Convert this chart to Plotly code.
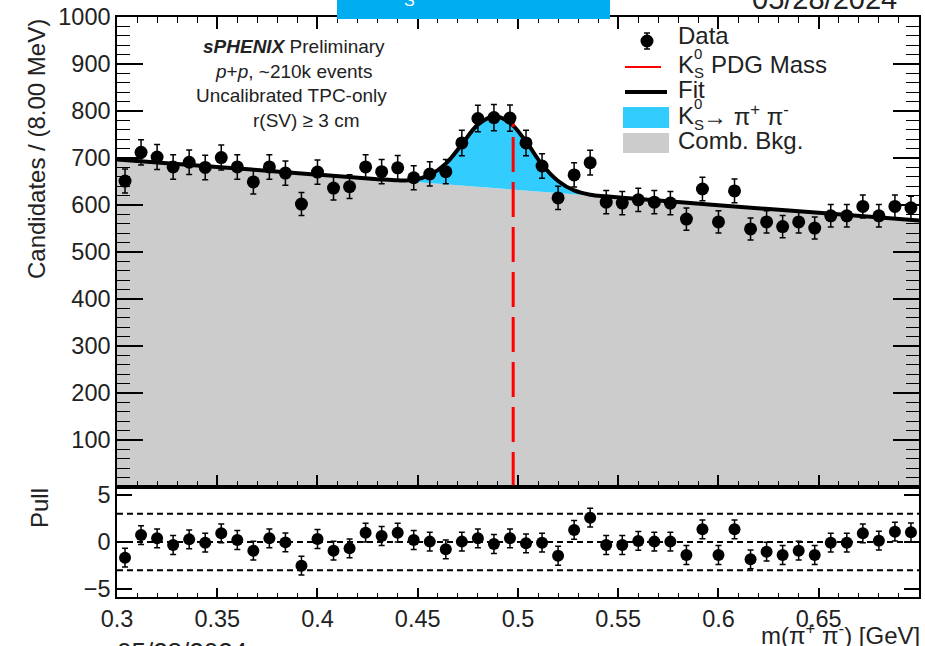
import numpy as np
import plotly.graph_objects as go

W, H = 925, 646

# ---------------- data ----------------
mass = [0.304, 0.312, 0.320, 0.328, 0.336, 0.344, 0.352, 0.360, 0.368, 0.376,
        0.384, 0.392, 0.400, 0.408, 0.416, 0.424, 0.432, 0.440, 0.448, 0.456,
        0.464, 0.472, 0.480, 0.488, 0.496, 0.504, 0.512, 0.520, 0.528, 0.536,
        0.544, 0.552, 0.560, 0.568, 0.576, 0.584, 0.592, 0.600, 0.608, 0.616,
        0.624, 0.632, 0.640, 0.648, 0.656, 0.664, 0.672, 0.680, 0.688, 0.696]

counts = [651, 712, 702, 681, 691, 680, 701, 681, 649, 681,
          668, 602, 670, 636, 639, 681, 671, 679, 658, 666,
          671, 732, 784, 786, 785, 732, 683, 615, 664, 690,
          606, 604, 611, 606, 604, 570, 634, 564, 630, 549,
          564, 554, 564, 551, 577, 577, 597, 577, 597, 594]

pulls = [-1.67, 0.74, 0.39, -0.32, 0.28, -0.07, 0.92, 0.21, -0.92, 0.39,
         -0.04, -2.52, 0.32, -0.92, -0.67, 0.99, 0.64, 0.99, 0.21, 0.04,
         -0.78, 0.04, 0.39, -0.21, 0.39, -0.14, -0.07, -1.46, 1.28, 2.59,
         -0.32, -0.32, 0.11, 0.04, 0.04, -1.38, 1.35, -1.38, 1.35, -1.84,
         -1.03, -1.38, -0.92, -1.38, -0.07, -0.07, 0.92, 0.14, 1.10, 1.03]

fit_mass = [0.300, 0.350, 0.400, 0.430, 0.440, 0.448, 0.456, 0.464, 0.472, 0.480,
            0.488, 0.496, 0.504, 0.512, 0.520, 0.528, 0.536, 0.544, 0.552, 0.600,
            0.650, 0.700]
fit_total = [697.0, 681.0, 664.5, 655.0, 652.5, 653.5, 664.0, 688.0, 729.0, 771.0,
             789.0, 775.0, 735.0, 686.0, 651.0, 631.0, 622.0, 618.5, 615.5, 599.5,
             583.3, 567.0]
fit_bkg = [697.0, 680.8, 664.5, 654.8, 651.5, 648.9, 646.3, 643.7, 641.1, 638.5,
           635.9, 633.3, 630.7, 628.1, 625.5, 622.9, 620.3, 617.7, 615.1, 599.5,
           583.3, 567.0]

pdg_mass = 0.4976
pdg_line_y = [0, 790]
pull_ref_levels = [3, 0, -3]
x_range = [0.3, 0.70001]

main_yticks = [100, 200, 300, 400, 500, 600, 700, 800, 900, 1000]
pull_yticks = [-5, 0, 5]
pull_yticklabels = ["\u22125", "0", "5"]

FONT = "Liberation Sans, Arial, Helvetica, sans-serif"
TXT = "#222222"
CYAN = "#33CCFF"
GRAY = "#CCCCCC"


def px(x):
    return x / W


def py(y):
    return 1 - y / H


fig = go.Figure()

# background (comb. bkg.)
fig.add_trace(go.Scatter(x=fit_mass, y=fit_bkg, mode="lines", line=dict(width=0, color=GRAY),
                         fill="tozeroy", fillcolor=GRAY, xaxis="x", yaxis="y",
                         showlegend=False, hoverinfo="skip"))
# signal fill
fig.add_trace(go.Scatter(x=fit_mass, y=fit_total, mode="lines", line=dict(width=0, color=CYAN, shape="spline"),
                         fill="tonexty", fillcolor=CYAN, xaxis="x", yaxis="y",
                         showlegend=False, hoverinfo="skip"))
# fit line
fig.add_trace(go.Scatter(x=fit_mass, y=fit_total, mode="lines", line=dict(width=4, color="black", shape="spline"),
                         xaxis="x", yaxis="y", showlegend=False))
# PDG mass line
fig.add_trace(go.Scatter(x=[pdg_mass, pdg_mass], y=pdg_line_y, mode="lines",
                         line=dict(width=3, color="#FF0000", dash="35px,10px"),
                         xaxis="x", yaxis="y", showlegend=False))
# data
fig.add_trace(go.Scatter(x=mass, y=counts, mode="markers",
                         marker=dict(size=13, color="black"),
                         error_y=dict(type="data", array=np.sqrt(np.array(counts)).tolist(),
                                      color="black", thickness=1.5, width=3),
                         xaxis="x", yaxis="y", showlegend=False))

# pull reference lines
for lvl in pull_ref_levels:
    fig.add_trace(go.Scatter(x=x_range, y=[lvl, lvl], mode="lines",
                             line=dict(width=2, color="black", dash="6px,4px"),
                             xaxis="x2", yaxis="y2", showlegend=False))
# pulls
fig.add_trace(go.Scatter(x=mass, y=pulls, mode="markers",
                         marker=dict(size=12, color="black"),
                         error_y=dict(type="constant", value=1, color="black", thickness=1.5, width=3),
                         xaxis="x2", yaxis="y2", showlegend=False))

xdom = [px(117), px(919)]
axis_common = dict(showgrid=False, zeroline=False, showline=True, linecolor="black", linewidth=1.5,
                   tickcolor="black", tickwidth=1.5, ticks="inside", automargin=False,
                   tickfont=dict(family=FONT, size=23.5, color=TXT))

fig.update_layout(
    width=W, height=H, autosize=False,
    margin=dict(l=0, r=0, t=0, b=0, pad=0, autoexpand=False),
    paper_bgcolor="white", plot_bgcolor="rgba(0,0,0,0)",
    font=dict(family=FONT, color=TXT),
    xaxis=dict(domain=xdom, range=x_range, anchor="y", showticklabels=False,
               tick0=0.3, dtick=0.05, ticklen=12, mirror="ticks",
               minor=dict(ticks="inside", ticklen=6, dtick=0.01, tick0=0.3, tickcolor="black", tickwidth=1.2),
               **axis_common),
    yaxis=dict(domain=[py(487), py(17)], range=[0, 1000], anchor="x",
               tickmode="array", tickvals=main_yticks, ticklen=26, mirror="ticks",
               minor=dict(ticks="inside", ticklen=13, dtick=20, tick0=0, tickcolor="black", tickwidth=1.2),
               **axis_common),
    xaxis2=dict(domain=xdom, range=x_range, anchor="y2",
                tick0=0.3, dtick=0.05, ticklen=9, mirror=True,
                minor=dict(ticks="inside", ticklen=4.5, dtick=0.01, tick0=0.3, tickcolor="black", tickwidth=1.2),
                **axis_common),
    yaxis2=dict(domain=[py(597), py(487)], range=[-5.85, 5.85], anchor="x2",
                tickmode="array", tickvals=pull_yticks, ticktext=pull_yticklabels,
                ticklen=15, mirror="ticks", **axis_common),
)

ann = []


def text(x, y, s, size, xanchor="left", color=TXT, angle=0, yanchor="middle"):
    ann.append(dict(x=px(x), y=py(y), xref="paper", yref="paper", text=s, showarrow=False,
                    xanchor=xanchor, yanchor=yanchor, textangle=angle,
                    font=dict(family=FONT, size=size, color=color)))


# axis titles
text(36, 149, "Candidates / (8.00 MeV)", 24, xanchor="center", angle=-90)
text(39, 508, "Pull", 24, xanchor="center", angle=-90)
text(922, 634, "m(\u03c0<sup>+</sup> \u03c0<sup>-</sup>) [GeV]", 24, xanchor="right")

# labels
text(294, 47, "<b><i>sPHENIX</i></b> Preliminary", 19, xanchor="center")
text(293, 72, "<i>p</i>+<i>p</i>, ~210k events", 19, xanchor="center")
text(291, 96, "Uncalibrated TPC-only", 19, xanchor="center")
text(306, 120, "r(SV) \u2265 3 cm", 19, xanchor="center")

# legend texts
text(676, 36, "Data", 24)
text(676, 64, "K", 24)
text(692, 53, "0", 15)
text(692, 73, "S", 15)
text(709, 64, "PDG Mass", 24)
text(676, 89, "Fit", 24)
text(676, 115, "K", 24)
text(692, 104, "0", 15)
text(692, 124, "S", 15)
text(701, 115, "\u2192 \u03c0<sup>+</sup> \u03c0<sup>-</sup>", 24)
text(676, 140, "Comb. Bkg.", 24)

# texts cut off by the page border (margins do not auto-expand)
text(750, -1, "05/28/2024", 29)
text(115, 651.5, "05/28/2024", 26)
text(409, 0.5, "S", 16, xanchor="center", color="white")

shapes = []
# banner
shapes.append(dict(type="rect", xref="paper", yref="paper", x0=px(337), x1=px(610), y0=py(19), y1=1,
                   fillcolor="#00AEEF", line=dict(width=0), layer="above"))
# legend symbols
shapes.append(dict(type="line", xref="paper", yref="paper", x0=px(647), x1=px(647), y0=py(33), y1=py(49),
                   line=dict(color="black", width=1.5)))
for yy in (33, 49):
    shapes.append(dict(type="line", xref="paper", yref="paper", x0=px(644), x1=px(650), y0=py(yy), y1=py(yy),
                       line=dict(color="black", width=1.5)))
shapes.append(dict(type="circle", xref="paper", yref="paper", x0=px(640.5), x1=px(653.5), y0=py(47.5), y1=py(34.5),
                   fillcolor="black", line=dict(width=0)))
shapes.append(dict(type="line", xref="paper", yref="paper", x0=px(625), x1=px(661), y0=py(67), y1=py(67),
                   line=dict(color="#FF0000", width=2)))
shapes.append(dict(type="line", xref="paper", yref="paper", x0=px(625), x1=px(667), y0=py(92), y1=py(92),
                   line=dict(color="black", width=4)))
shapes.append(dict(type="rect", xref="paper", yref="paper", x0=px(623), x1=px(669), y0=py(128), y1=py(107),
                   fillcolor=CYAN, line=dict(width=0)))
shapes.append(dict(type="rect", xref="paper", yref="paper", x0=px(623), x1=px(669), y0=py(153), y1=py(133),
                   fillcolor=GRAY, line=dict(width=0)))

fig.update_layout(annotations=ann, shapes=shapes)

fig.write_html("out.html", config=dict(displayModeBar=False),
               post_script="document.body.style.margin='0px';document.body.style.overflow='hidden';")
